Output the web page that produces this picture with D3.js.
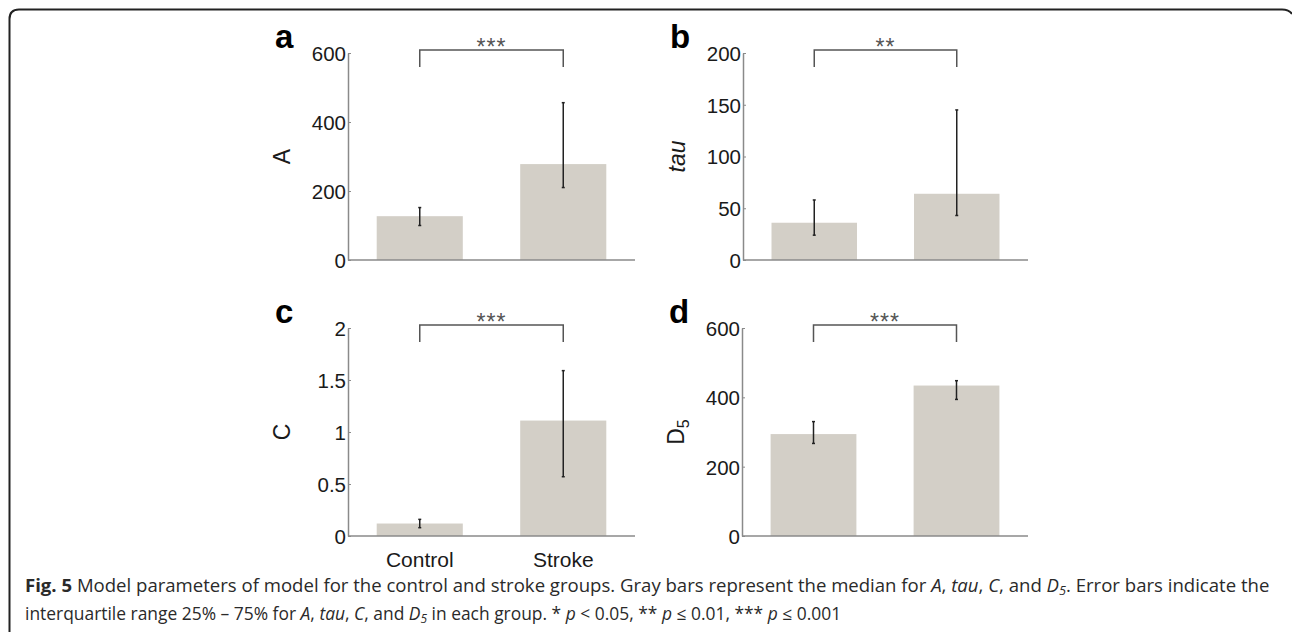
<!DOCTYPE html>
<html>
<head>
<meta charset="utf-8">
<script src="https://cdn.jsdelivr.net/npm/d3@7"></script>
<style>
  html, body { margin: 0; padding: 0; background: #fff; }
  svg { display: block; }
</style>
</head>
<body>
<svg id="fig" width="1292" height="632"></svg>
<script>
// Data ─────────────────────────────────────────────────────────────────────
var groups = ["Control", "Stroke"];

var medianA   = [127, 278];
var iqrA      = [[100, 152], [210, 456]];
var medianTau = [36, 64];
var iqrTau    = [[24, 58], [43, 145]];
var medianC   = [0.12, 1.11];
var iqrC      = [[0.08, 0.16], [0.57, 1.59]];
var medianD5  = [294, 434];
var iqrD5     = [[267, 330], [394, 448]];

var ticksA   = [0, 200, 400, 600];
var ticksTau = [0, 50, 100, 150, 200];
var ticksC   = [0, 0.5, 1, 1.5, 2];
var ticksD5  = [0, 200, 400, 600];

var panelLetters = ["a", "b", "c", "d"];
var panelStars   = ["***", "**", "***", "***"];

// Layout ────────────────────────────────────────────────────────────────────
var svg = d3.select("#fig");
var BAR = "#d3cfc7", AXIS = "#8a8a8a", INK = "#1a1a1a";
var SANS = "Liberation Sans, Arial, sans-serif";

// rounded frame (top + left edges only visible)
svg.append("path")
  .attr("d", "M9.5,632 L9.5,19 Q9.5,9.5 19,9.5 L1282,9.5 Q1289,9.5 1292,14")
  .attr("fill", "none").attr("stroke", "#222").attr("stroke-width", 2);

var panels = [
  { left: 348, top: 53,  bottom: 260, right: 635,  max: 600, med: medianA,   iqr: iqrA,   ticks: ticksA,   title: "A",   italic: false },
  { left: 743, top: 53,  bottom: 260, right: 1028, max: 200, med: medianTau, iqr: iqrTau, ticks: ticksTau, title: "tau", italic: true },
  { left: 348, top: 328, bottom: 536, right: 635,  max: 2,   med: medianC,   iqr: iqrC,   ticks: ticksC,   title: "C",   italic: false },
  { left: 742, top: 328, bottom: 536, right: 1028, max: 600, med: medianD5,  iqr: iqrD5,  ticks: ticksD5,  title: "D5",  italic: false }
];

panels.forEach(function (p, i) {
  var x = d3.scaleBand().domain(groups)
    .range([p.left, p.right]).paddingInner(0.4).paddingOuter(0.2);
  var y = d3.scaleLinear().domain([0, p.max]).range([p.bottom, p.top]);
  var g = svg.append("g");

  // bars
  g.selectAll("rect.bar").data(groups).enter().append("rect")
    .attr("class", "bar")
    .attr("x", function (d) { return x(d); })
    .attr("width", x.bandwidth())
    .attr("y", function (d, k) { return y(p.med[k]); })
    .attr("height", function (d, k) { return p.bottom - y(p.med[k]); })
    .attr("fill", BAR);

  // y axis (ticks point inward)
  var ax = g.append("g").attr("transform", "translate(" + p.left + ",0)")
    .call(d3.axisRight(y).tickValues(p.ticks).tickSize(3).tickSizeOuter(0)
      .tickFormat(d3.format("")));
  ax.select(".domain").attr("stroke", AXIS).attr("stroke-width", 1.5);
  ax.selectAll(".tick line").attr("stroke", AXIS);
  ax.selectAll(".tick text")
    .attr("x", -2).attr("dy", "0.36em").attr("text-anchor", "end")
    .attr("font-family", SANS)
    .attr("font-size", 20.5).attr("fill", INK);

  // x axis baseline
  g.append("line")
    .attr("x1", p.left).attr("x2", p.right)
    .attr("y1", p.bottom).attr("y2", p.bottom)
    .attr("stroke", AXIS).attr("stroke-width", 1.5);

  // error bars (interquartile range)
  var eb = g.selectAll("g.err").data(groups).enter().append("g").attr("class", "err");
  var cx = function (d) { return x(d) + x.bandwidth() / 2; };
  eb.append("line")
    .attr("x1", cx).attr("x2", cx)
    .attr("y1", function (d, k) { return y(p.iqr[k][0]); })
    .attr("y2", function (d, k) { return y(p.iqr[k][1]); })
    .attr("stroke", "#222").attr("stroke-width", 1.5);
  [0, 1].forEach(function (e) {
    eb.append("line")
      .attr("x1", function (d) { return cx(d) - 1.5; })
      .attr("x2", function (d) { return cx(d) + 1.5; })
      .attr("y1", function (d, k) { return y(p.iqr[k][e]); })
      .attr("y2", function (d, k) { return y(p.iqr[k][e]); })
      .attr("stroke", "#222").attr("stroke-width", 1.5);
  });

  // significance bracket
  var bx1 = cx(groups[0]), bx2 = cx(groups[1]);
  var bTop = p.top - 3, bBot = p.top + 14;
  g.append("path")
    .attr("d", "M" + bx1 + "," + bBot + "V" + bTop + "H" + bx2 + "V" + bBot)
    .attr("fill", "none").attr("stroke", "#555").attr("stroke-width", 1.5);
  g.append("text")
    .attr("x", (bx1 + bx2) / 2).attr("y", bTop + 5)
    .attr("text-anchor", "middle")
    .attr("font-family", SANS)
    .attr("font-size", 23).attr("letter-spacing", 1).attr("fill", "#555")
    .text(panelStars[i]);

  // panel letter
  g.append("text")
    .attr("x", p.left - 73).attr("y", p.top - 5)
    .attr("font-family", SANS)
    .attr("font-weight", "bold").attr("font-size", 33).attr("fill", "#000")
    .text(panelLetters[i]);

  // y-axis title
  var ty = g.append("text")
    .attr("transform", "translate(" + (p.left - 58) + "," + ((p.top + p.bottom) / 2) + ") rotate(-90)")
    .attr("text-anchor", "middle")
    .attr("font-family", SANS)
    .attr("font-size", 23).attr("fill", INK)
    .attr("font-style", p.italic ? "italic" : null);
  if (p.title === "D5") {
    ty.append("tspan").text("D");
    ty.append("tspan").attr("font-size", 16).attr("dy", 5).text("5");
  } else {
    ty.text(p.title);
  }

  // category labels only under bottom-left panel
  if (i === 2) {
    g.selectAll("text.cat").data(groups).enter().append("text")
      .attr("class", "cat")
      .attr("x", cx).attr("y", p.bottom + 31)
      .attr("text-anchor", "middle")
      .attr("font-family", SANS)
      .attr("font-size", 21).attr("fill", INK)
      .text(function (d) { return d; });
  }
});

// Caption ───────────────────────────────────────────────────────────────────
var CAP_FONT = "Open Sans, Noto Sans, sans-serif";
var line1 = [
  ["Fig. 5", "b"], [" Model parameters of model for the control and stroke groups. Gray bars represent the median for "],
  ["A", "i"], [", "], ["tau", "i"], [", "], ["C", "i"], [", and "], ["D", "i"], ["5", "is"],
  [". Error bars indicate the"]
];
var line2 = [
  ["interquartile range 25% \u2013 75% for "], ["A", "i"], [", "], ["tau", "i"], [", "], ["C", "i"], [", and "],
  ["D", "i"], ["5", "is"], [" in each group. * "], ["p", "i"], [" < 0.05, ** "], ["p", "i"], [" \u2264 0.01, *** "],
  ["p", "i"], [" \u2264 0.001"]
];

function captionLine(parts, yPos, width) {
  var t = svg.append("text").attr("x", 25).attr("y", yPos)
    .attr("font-family", CAP_FONT).attr("font-size", 16).attr("fill", "#2a2a2a");
  parts.forEach(function (pt) {
    var s = t.append("tspan").text(pt[0]);
    var st = pt[1] || "";
    if (st.indexOf("b") >= 0) s.attr("font-weight", "bold");
    if (st.indexOf("i") >= 0) s.attr("font-style", "italic");
    if (st.indexOf("s") >= 0) s.attr("font-size", 11).attr("dy", 3);
  });
  // undo subscript shift for the following tspan
  t.selectAll("tspan").each(function (d, k, nodes) {
    if (k > 0 && d3.select(nodes[k - 1]).attr("dy") === "3") d3.select(this).attr("dy", -3);
  });
  if (width) {
    var w = t.node().getComputedTextLength();
    t.attr("font-size", 16 * width / w);
    t.selectAll("tspan").filter(function () { return d3.select(this).attr("font-size"); })
      .attr("font-size", 11 * width / w);
  }
  return t;
}
captionLine(line1, 592, 1245);
captionLine(line2, 620, 817);
</script>
</body>
</html>
